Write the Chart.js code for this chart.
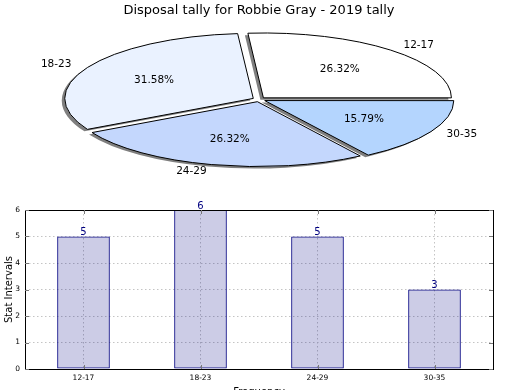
<!DOCTYPE html>
<html>
<head>
<meta charset="utf-8">
<script src="https://cdn.jsdelivr.net/npm/chart.js@4.4.1/dist/chart.umd.min.js"></script>
<style>
  html, body { margin: 0; padding: 0; overflow: hidden; background: #fff; }
  body { width: 520px; height: 390px; position: relative; }
  #pieWrap { position: absolute; left: 0; top: 0; width: 520px; height: 200px; }
  #barWrap { position: absolute; left: 0; top: 195px; width: 520px; height: 210px; }
</style>
</head>
<body>
<div id="pieWrap"><canvas id="pie"></canvas></div>
<div id="barWrap"><canvas id="bar"></canvas></div>
<script>
const titulo = 'Disposal tally for Robbie Gray - 2019 tally';
const categories = ['12-17', '18-23', '24-29', '30-35'];
const counts = [5, 6, 5, 3];
const yLabel = 'Stat Intervals';
const xLabel = 'Frequency';

const pieColors = ['#ffffff', '#eaf2ff', '#c4d7fd', '#b4d5fe'];
const FONT = "'DejaVu Sans', sans-serif";
const SQUASH = 0.345;  // el pie original esta aplastado en vertical
const EXPLODE = 26;    // chart.js desplaza cada porcion offset/4

Chart.defaults.font.family = FONT;

// matplotlib arranca en las 3 y gira al reves, asi que se invierte el orden
const pieLabels = categories.slice().reverse();
const pieData = counts.slice().reverse();
const pieBg = pieColors.slice().reverse();
const total = counts.reduce((a, b) => a + b, 0);

const elipse = {
  id: 'elipse',
  beforeDatasetsDraw(chart) {
    const ctx = chart.ctx;
    const arc = chart.getDatasetMeta(0).data[0];
    const base = ctx.getTransform();
    ctx.save();
    ctx.translate(arc.x, arc.y);
    ctx.scale(1, SQUASH);
    ctx.translate(-arc.x, -arc.y);
    ctx.shadowColor = 'rgba(0,0,0,0.5)';
    ctx.shadowOffsetX = -3;
    ctx.shadowOffsetY = 2;
    // trazo sin aplastar y sin sombra, para que el borde quede limpio
    ctx.stroke = function () {
      const t = this.getTransform();
      const sc = this.shadowColor;
      this.setTransform(base);
      this.shadowColor = 'rgba(0,0,0,0)';
      CanvasRenderingContext2D.prototype.stroke.call(this);
      this.shadowColor = sc;
      this.setTransform(t);
    };
  },
  afterDatasetsDraw(chart) {
    const ctx = chart.ctx;
    delete ctx.stroke;
    ctx.restore();

    const meta = chart.getDatasetMeta(0);
    ctx.save();
    ctx.font = '10.5px ' + FONT;
    ctx.fillStyle = '#000';
    ctx.textBaseline = 'middle';
    meta.data.forEach((arc, i) => {
      const mid = (arc.startAngle + arc.endAngle) / 2;
      const d = EXPLODE / 4;
      const r = arc.outerRadius;
      const c = Math.cos(mid), s = Math.sin(mid);
      const pct = (pieData[i] / total * 100).toFixed(2) + '%';
      ctx.textAlign = 'center';
      ctx.fillText(pct, arc.x + (0.6 * r + d) * c, arc.y + SQUASH * (0.6 * r + d) * s);
      ctx.textAlign = c >= 0 ? 'left' : 'right';
      ctx.fillText(pieLabels[i], arc.x + (1.1 * r + d) * c, arc.y + SQUASH * (1.1 * r + d) * s);
    });
    ctx.restore();
  }
};

new Chart(document.getElementById('pie'), {
  type: 'pie',
  data: {
    labels: pieLabels,
    datasets: [{
      data: pieData,
      backgroundColor: pieBg,
      borderColor: '#000',
      borderWidth: 1,
      offset: EXPLODE,
      hoverOffset: 0,
      clip: false
    }]
  },
  options: {
    responsive: true,
    maintainAspectRatio: false,
    animation: false,
    events: [],
    rotation: 90,
    radius: 188,
    layout: { padding: { left: 0, right: 2, top: 0, bottom: 19.6 } },
    plugins: {
      legend: { display: false },
      tooltip: { enabled: false },
      title: {
        display: true,
        text: titulo,
        color: '#000',
        font: { size: 13, weight: 'normal', lineHeight: 1.2 },
        padding: { top: 3, bottom: 0 }
      }
    }
  },
  plugins: [elipse]
});

const marco = {
  id: 'marco',
  afterDraw(chart) {
    const { ctx, chartArea: a } = chart;
    ctx.save();
    ctx.strokeStyle = '#000';
    ctx.lineWidth = 1;
    ctx.strokeRect(a.left + 0.5, a.top + 0.5, a.right - a.left, a.bottom - a.top);

    // marcas de los ticks hacia dentro
    ctx.beginPath();
    const ys = chart.scales.y, xs = chart.scales.x;
    ys.ticks.forEach((t, i) => {
      const y = Math.round(ys.getPixelForTick(i)) + 0.5;
      ctx.moveTo(a.left, y); ctx.lineTo(a.left + 4, y);
      ctx.moveTo(a.right, y); ctx.lineTo(a.right - 4, y);
    });
    xs.ticks.forEach((t, i) => {
      const x = Math.round(xs.getPixelForTick(i)) + 0.5;
      ctx.moveTo(x, a.bottom); ctx.lineTo(x, a.bottom - 4);
      ctx.moveTo(x, a.top); ctx.lineTo(x, a.top + 4);
    });
    ctx.strokeStyle = '#777';
    ctx.stroke();

    // valores encima de cada barra
    ctx.font = '10px ' + FONT;
    ctx.fillStyle = '#000080';
    ctx.textAlign = 'center';
    ctx.textBaseline = 'alphabetic';
    chart.getDatasetMeta(0).data.forEach((bar, i) => {
      ctx.fillText(String(counts[i]), bar.x, bar.y - 1.5);
    });
    ctx.restore();
  }
};

new Chart(document.getElementById('bar'), {
  type: 'bar',
  data: {
    labels: categories,
    datasets: [{
      data: counts,
      backgroundColor: 'rgba(0,0,128,0.2)',
      borderColor: '#000080',
      borderWidth: 1,
      borderSkipped: false,
      barPercentage: 0.45,
      categoryPercentage: 1
    }]
  },
  options: {
    responsive: true,
    maintainAspectRatio: false,
    animation: false,
    events: [],
    layout: { padding: { top: 15, right: 27, left: 0, bottom: 0 } },
    plugins: { legend: { display: false }, tooltip: { enabled: false } },
    scales: {
      x: {
        offset: true,
        grid: { offset: false, color: '#c4c4c4', lineWidth: 1, drawTicks: false },
        border: { display: false, dash: [1.5, 2.5] },
        ticks: { color: '#000', font: { size: 7.5 }, padding: 5 },
        title: { display: true, text: xLabel, color: '#000', font: { size: 10 }, padding: { top: 4, bottom: 7 } },
        afterFit(scale) { scale.height = 36; }
      },
      y: {
        min: 0,
        max: 6,
        grid: { color: '#c4c4c4', lineWidth: 1, drawTicks: false },
        border: { display: false, dash: [1.5, 2.5] },
        ticks: { stepSize: 1, color: '#000', font: { size: 7.5 }, padding: 5 },
        title: { display: true, text: yLabel, color: '#000', font: { size: 10 }, padding: { top: 3, bottom: 0 } },
        afterFit(scale) { scale.width = 25; }
      }
    }
  },
  plugins: [marco]
});
</script>
</body>
</html>
